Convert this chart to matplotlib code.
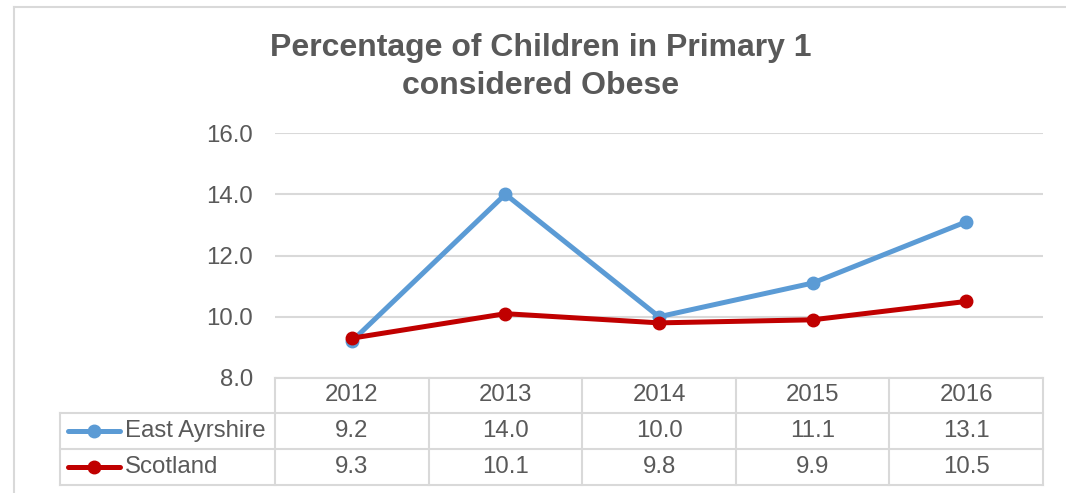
import matplotlib
matplotlib.use("Agg")
import matplotlib.pyplot as plt
from matplotlib.lines import Line2D
from matplotlib.transforms import blended_transform_factory

years = ["2012", "2013", "2014", "2015", "2016"]
east_ayrshire = [9.2, 14.0, 10.0, 11.1, 13.1]
scotland = [9.3, 10.1, 9.8, 9.9, 10.5]
series_names = ["East Ayrshire", "Scotland"]
yticks = [8.0, 10.0, 12.0, 14.0, 16.0]
title = "Percentage of Children in Primary 1\nconsidered Obese"

W, H = 1066, 493
plt.rcParams['font.family'] = ['Liberation Sans', 'DejaVu Sans']
TXT = "#595959"
GRID = "#D9D9D9"
BLUE = "#5B9BD5"
RED = "#C00000"
colors = [BLUE, RED]
FS = 17.3

fig = plt.figure(figsize=(W / 100, H / 100), dpi=100)

def fx(x):
    return x / W

def fy(y):
    return 1 - y / H

# chart frame
fig.add_artist(Line2D([fx(14), fx(14)], [fy(7), 0], transform=fig.transFigure, color=GRID, lw=1.5))
fig.add_artist(Line2D([fx(14), 1], [fy(7), fy(7)], transform=fig.transFigure, color=GRID, lw=1.5))

L, R, T, B = 275, 1043, 133, 378
ax = fig.add_axes([fx(L), fy(B), fx(R) - fx(L), fy(T) - fy(B)])
x = list(range(len(years)))
for vals, c in zip([east_ayrshire, scotland], colors):
    ax.plot(x, vals, color=c, lw=3.6, marker='o', markersize=9, solid_capstyle='round', zorder=3)
ax.set_xlim(-0.5, len(years) - 0.5)
ax.set_ylim(min(yticks), max(yticks))
ax.set_yticks(yticks)
ax.set_yticklabels([f"{v:.1f}" for v in yticks], color=TXT, fontsize=FS)
ax.tick_params(axis='y', length=0, pad=16)
ax.set_xticks([])
for s in ax.spines.values():
    s.set_visible(False)
ax.grid(axis='y', color=GRID, lw=1.5)
ax.set_axisbelow(True)

fig.text(0.5 * (fx(272) + fx(810)), fy(67), title, ha='center', va='center',
         fontsize=23, fontweight='bold', color=TXT, linespacing=1.38)

# data table
bt = blended_transform_factory(ax.transData, fig.transFigure)
rows_y = [378, 413, 449, 485]
n = len(years)
fig.add_artist(Line2D([fx(L), fx(R)], [fy(378), fy(378)], transform=fig.transFigure, color=GRID, lw=1.5))
for yy in rows_y[1:]:
    fig.add_artist(Line2D([fx(60), fx(R)], [fy(yy), fy(yy)], transform=fig.transFigure, color=GRID, lw=1.5))
for i in range(n + 1):
    fig.add_artist(Line2D([i - 0.5, i - 0.5], [fy(378), fy(485)], transform=bt, color=GRID, lw=1.5))
fig.add_artist(Line2D([fx(60), fx(60)], [fy(413), fy(485)], transform=fig.transFigure, color=GRID, lw=1.5))

for i, yr in enumerate(years):
    fig.text(i, fy(395), yr, transform=bt, ha='center', va='center', fontsize=FS, color=TXT)
for r, (vals, name, c) in enumerate(zip([east_ayrshire, scotland], series_names, colors)):
    yc = fy(431 + 36 * r)
    for i, v in enumerate(vals):
        fig.text(i, yc, f"{v:.1f}", transform=bt, ha='center', va='center', fontsize=FS, color=TXT)
    fig.add_artist(Line2D([fx(68), fx(120)], [yc, yc], transform=fig.transFigure, color=c, lw=3.6,
                          solid_capstyle='round'))
    fig.add_artist(Line2D([fx(94)], [yc], transform=fig.transFigure, color=c, marker='o', markersize=9))
    fig.text(fx(125), yc, name, ha='left', va='center', fontsize=FS, color=TXT)

fig.savefig("out.png", dpi=100)
